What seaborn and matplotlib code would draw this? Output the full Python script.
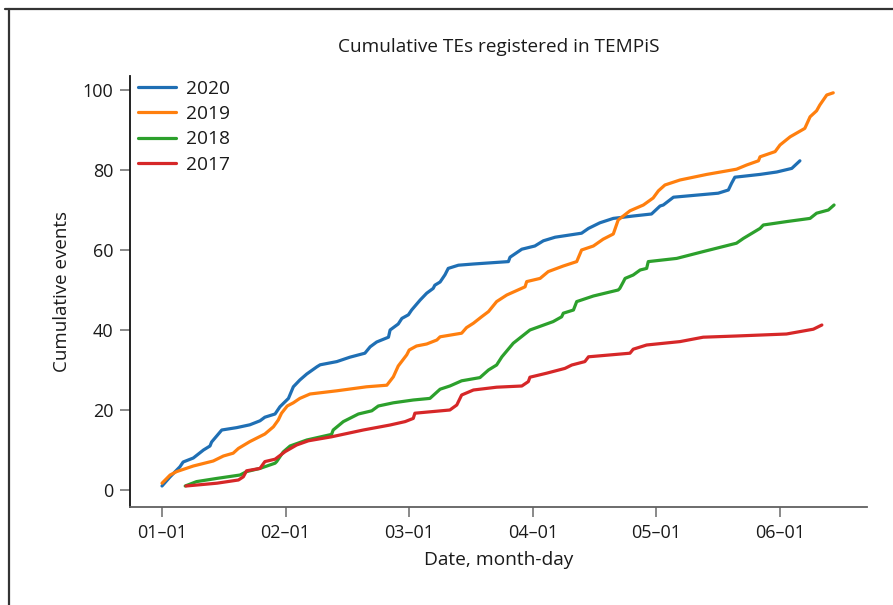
import numpy as np
import pandas as pd
import matplotlib
matplotlib.use("Agg")
import matplotlib.pyplot as plt
from matplotlib.lines import Line2D
import seaborn as sns

# ---- data: days since Jan 1 (axis spaced ~30.4 days per month) and cumulative events ----
days_2020 = [0, 2.0, 4.4, 5.2, 7.7, 10.2, 11.8, 12.2, 14.7, 18.4, 21.6, 24.1, 25.3, 27.8, 29.0,
             31.1, 32.3, 33.9, 35.6, 38.1, 38.9, 43.0, 46.2, 49.9, 51.2, 52.8, 55.7, 56.1, 58.1,
             59.0, 60.6, 61.4, 63.5, 65.1, 66.7, 67.1, 68.4, 69.6, 70.4, 72.9, 76.6, 85.2, 85.6,
             88.5, 91.7, 93.8, 96.7, 103.2, 104.9, 107.7, 111.0, 115.9, 120.4, 122.5, 123.3,
             125.8, 136.8, 139.3, 140.1, 140.9, 147.1, 151.2, 154.9, 156.9]
vals_2020 = [1, 3.3, 5.8, 7, 8, 10, 11, 12, 15, 15.6, 16.3, 17.3, 18.2, 19, 20.8,
             22.9, 25.8, 27.5, 29, 30.8, 31.3, 32.1, 33.2, 34.2, 35.8, 37, 38.2, 40, 41.5,
             42.9, 43.8, 45, 47.5, 49.2, 50.4, 51.2, 52, 53.8, 55.4, 56.2, 56.5, 57.1, 58.2,
             60.2, 61, 62.3, 63.2, 64.2, 65.4, 66.8, 67.9, 68.5, 69, 71, 71.25,
             73.2, 74.2, 75, 76.7, 78.2, 78.9, 79.5, 80.4, 82.3]

days_2019 = [0, 2.0, 3.6, 7.7, 12.6, 15.1, 17.5, 18.8, 21.6, 25.3, 27.4, 28.6, 29.4, 30.8,
             32.3, 33.9, 36.4, 43.0, 50.3, 55.3, 56.9, 58.1, 60.2, 60.8, 62.6, 65.1, 67.6,
             68.4, 73.7, 74.9, 76.6, 78.6, 80.3, 82.3, 84.8, 89.3, 89.7, 93.0, 95.0, 98.7,
             102.0, 103.2, 106.1, 108.5, 111.0, 112.2, 115.1, 118.4, 120.8, 122.1, 123.7,
             127.4, 134.0, 141.3, 143.8, 146.7, 147.1, 150.8, 152.0, 154.5, 158.1, 159.4,
             161.0, 161.8, 163.5, 165.1]
vals_2019 = [1.7, 3.75, 4.6, 6, 7.25, 8.5, 9.2, 10.4, 12.1, 14, 15.8, 17.5, 19.2, 21,
             21.8, 22.9, 24, 24.8, 25.8, 26.2, 28.3, 31, 33.8, 35, 36, 36.5, 37.5,
             38.3, 39.2, 40.6, 41.7, 43.3, 44.6, 47.1, 48.75, 50.8, 52.1, 52.9, 54.6, 56,
             57.1, 60, 61, 62.7, 64, 67.5, 69.8, 71.25, 73, 74.8, 76.25,
             77.5, 78.9, 80.2, 81.25, 82.3, 83.3, 84.6, 86.25, 88.3, 90.4, 93.3,
             94.8, 96.25, 98.75, 99.3]

days_2018 = [5.7, 8.5, 13.5, 19.2, 20.8, 24.1, 27.8, 28.2, 29.8, 31.5, 35.6, 41.7, 42.1,
             44.6, 48.3, 51.6, 53.2, 56.9, 61.8, 65.9, 68.4, 70.8, 73.7, 78.2, 80.3, 82.3,
             83.6, 86.4, 90.5, 96.2, 98.3, 98.7, 101.2, 102.0, 106.1, 112.2, 112.6, 113.5,
             113.9, 115.9, 117.6, 119.2, 119.6, 126.6, 133.1, 141.3, 143.0, 147.1, 147.9,
             153.6, 159.4, 161.0, 163.9, 165.3]
vals_2018 = [1, 2.1, 2.9, 3.75, 4.6, 5.4, 6.7, 7.1, 9.5, 11, 12.5, 13.9, 15,
             17.1, 19, 19.8, 21, 21.8, 22.5, 22.9, 25.2, 26, 27.3, 28.1, 30, 31.25,
             33.3, 36.7, 40, 42.1, 43.3, 44.2, 45, 47.1, 48.5, 50, 50.4, 52.1,
             52.9, 53.75, 55, 55.4, 57.1, 57.9, 59.6, 61.7, 62.9, 65.4, 66.25,
             67.1, 67.9, 69.2, 70, 71.25]

days_2017 = [5.9, 13.5, 18.8, 20.0, 20.8, 24.1, 25.3, 27.8, 30.3, 33.1, 36.0, 41.7, 49.5,
             56.1, 59.8, 61.8, 62.2, 70.8, 72.5, 73.7, 76.6, 82.3, 88.5, 90.1, 90.5, 94.6,
             99.1, 100.8, 104.0, 104.9, 115.1, 115.9, 119.2, 127.4, 133.1, 141.3, 153.6,
             160.2, 162.3]
vals_2017 = [1, 1.7, 2.5, 3.3, 4.8, 5.4, 7.1, 7.7, 9.6, 11.25, 12.3, 13.3, 15,
             16.25, 17.1, 17.9, 19.2, 20, 21.25, 23.75, 25, 25.7, 26, 27.1, 28.2, 29.2,
             30.4, 31.25, 32.1, 33.3, 34.2, 35.2, 36.25, 37.1, 38.2, 38.5, 39,
             40.2, 41.25]

years = ["2020", "2019", "2018", "2017"]
tick_labels = ["01\u201301", "02\u201301", "03\u201301", "04\u201301", "05\u201301", "06\u201301"]
days_per_month = 30.4

series = {"2020": (days_2020, vals_2020), "2019": (days_2019, vals_2019),
          "2018": (days_2018, vals_2018), "2017": (days_2017, vals_2017)}
frames = []
for y in years:
    d, v = series[y]
    frames.append(pd.DataFrame({"day": d, "events": v, "year": y}))
df = pd.concat(frames, ignore_index=True)

sns.set_theme(style="white")
plt.rcParams["font.family"] = ["Open Sans", "DejaVu Sans"]

fig = plt.figure(figsize=(8.93, 6.05), dpi=100)
ax = fig.add_axes([130 / 893, 1 - 507 / 605, (867 - 130) / 893, (507 - 76) / 605])

palette = {"2020": "#1f6fb4", "2019": "#ff7f0e", "2018": "#2ca02c", "2017": "#d62728"}
sns.lineplot(data=df, x="day", y="events", hue="year", hue_order=years, palette=palette,
             estimator=None, sort=False, linewidth=2.3, ax=ax)

ax.set_xlim(-0.259 * days_per_month, 5.704 * days_per_month)
ax.set_ylim(-4.25, 103.5)
ax.set_xticks([i * days_per_month for i in range(len(tick_labels))])
ax.set_xticklabels(tick_labels)
ax.set_yticks([0, 20, 40, 60, 80, 100])
ax.tick_params(axis="both", which="major", length=7, width=1.3, color="#808080",
               labelsize=13, labelcolor="#1a1a1a", pad=5, bottom=True, left=True)
ax.set_xlabel("Date, month-day", fontsize=13.8, color="#1a1a1a", labelpad=7)
ax.set_ylabel("Cumulative events", fontsize=13.5, color="#1a1a1a", labelpad=8)
ax.set_title("Cumulative TEs registered in TEMPiS", fontsize=13.7, color="#1a1a1a", pad=17)

for s in ["top", "right"]:
    ax.spines[s].set_visible(False)
ax.spines["left"].set_color("#111111")
ax.spines["left"].set_linewidth(1.3)
ax.spines["bottom"].set_color("#606060")
ax.spines["bottom"].set_linewidth(1.3)

leg = ax.legend(loc="upper left", bbox_to_anchor=(-0.005, 1.018), frameon=False,
                fontsize=13.8, handlelength=2.0, handletextpad=0.5, labelspacing=0.38,
                borderaxespad=0.2)
for t in leg.get_texts():
    t.set_color("#1a1a1a")

# figure frame (top and left border)
fig.add_artist(Line2D([5 / 893, 1], [1 - 9 / 605, 1 - 9 / 605], transform=fig.transFigure,
                      color="#333333", linewidth=1.6))
fig.add_artist(Line2D([9 / 893, 9 / 893], [0, 1 - 9 / 605], transform=fig.transFigure,
                      color="#333333", linewidth=1.6))

fig.savefig("out.png", dpi=100)
